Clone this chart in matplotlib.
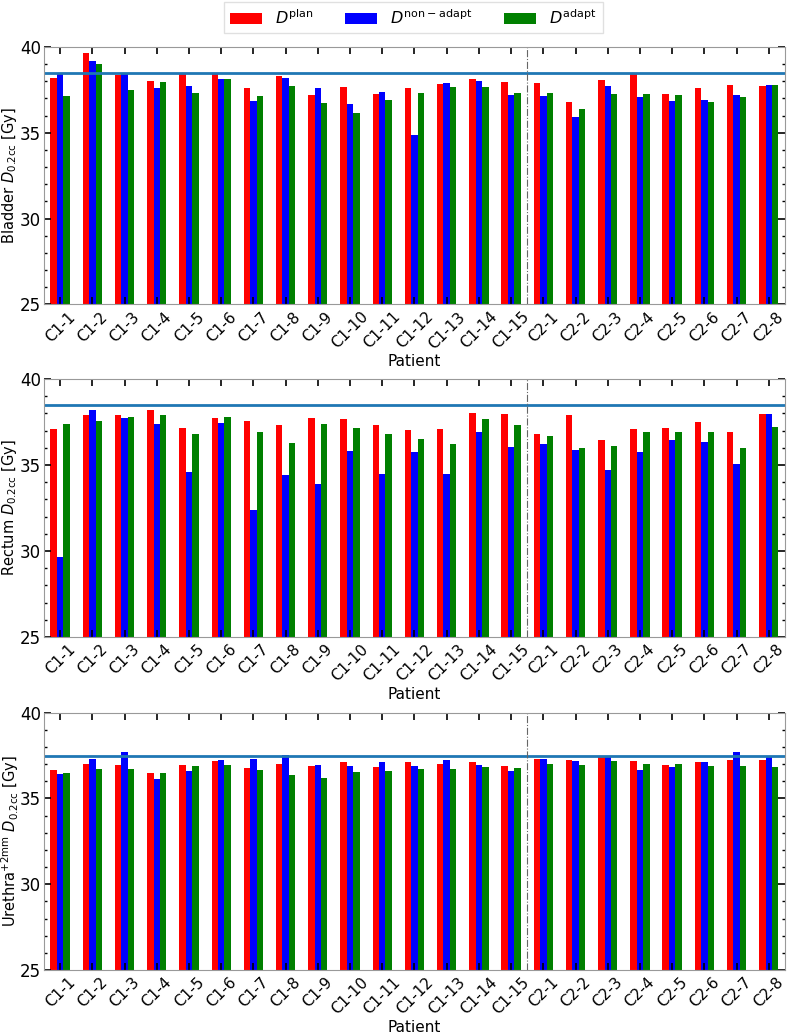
"""
Bladder / rectum / urethra D0.2cc per patient: plan vs non-adapted vs adapted.
"""

import matplotlib

matplotlib.use("Agg")
import matplotlib.pyplot as plt
import numpy as np
from matplotlib.ticker import MultipleLocator


PATIENTS = [f"C1-{i}" for i in range(1, 16)] + [f"C2-{i}" for i in range(1, 9)]

SERIES_LABELS = [r"$D^{\rm plan}$", r"$D^{\rm non-adapt}$", r"$D^{\rm adapt}$"]
SERIES_COLORS = ["red", "blue", "green"]

# Bladder D0.2cc [Gy]
bladder_plan = [38.20, 39.65, 38.35, 38.00, 38.45, 38.45, 37.63, 38.29, 37.19, 37.65,
                37.28, 37.63, 37.87, 38.14, 37.94, 37.88, 36.78, 38.06, 38.45, 37.28,
                37.59, 37.79, 37.75]
bladder_nonadapt = [38.49, 39.18, 38.50, 37.63, 37.73, 38.12, 36.88, 38.20, 37.63, 36.66,
                    37.36, 34.88, 37.92, 38.04, 37.22, 37.17, 35.92, 37.75, 37.11, 36.84,
                    36.91, 37.22, 37.81]
bladder_adapt = [37.17, 39.00, 37.50, 37.98, 37.30, 38.12, 37.17, 37.75, 36.72, 36.16,
                 36.90, 37.30, 37.65, 37.69, 37.30, 37.30, 36.41, 37.28, 37.28, 37.22,
                 36.82, 37.09, 37.77]

# Rectum D0.2cc [Gy]
rectum_plan = [37.11, 37.91, 37.89, 38.20, 37.17, 37.71, 37.58, 37.31, 37.73, 37.66,
               37.31, 37.05, 37.09, 38.00, 37.98, 36.80, 37.89, 36.47, 37.11, 37.17,
               37.48, 36.94, 37.97]
rectum_nonadapt = [29.67, 38.22, 37.75, 37.36, 34.57, 37.44, 32.38, 34.40, 33.91, 35.79,
                   34.50, 35.78, 34.50, 36.92, 36.07, 36.20, 35.85, 34.69, 35.78, 36.45,
                   36.36, 35.04, 37.97]
rectum_adapt = [37.40, 37.56, 37.79, 37.91, 36.80, 37.79, 36.90, 36.30, 37.40, 37.13,
                36.80, 36.53, 36.22, 37.67, 37.33, 36.69, 36.00, 36.10, 36.92, 36.92,
                36.90, 35.99, 37.21]

# Urethra+2mm D0.2cc [Gy]
urethra_plan = [36.64, 36.99, 36.95, 36.46, 36.95, 37.18, 36.79, 36.99, 36.87, 37.14,
                36.85, 37.14, 36.99, 37.10, 36.89, 37.30, 37.26, 37.44, 37.18, 36.97,
                37.12, 37.22, 37.22]
urethra_nonadapt = [36.44, 37.30, 37.71, 36.11, 36.62, 37.24, 37.32, 37.51, 36.93, 36.87,
                    37.14, 36.89, 37.24, 36.95, 36.62, 37.32, 37.20, 37.45, 36.66, 36.83,
                    37.10, 37.71, 37.47]
urethra_adapt = [36.48, 36.74, 36.74, 36.50, 36.87, 36.95, 36.64, 36.37, 36.19, 36.54,
                 36.58, 36.74, 36.74, 36.83, 36.76, 36.99, 36.95, 37.18, 36.99, 37.00,
                 36.87, 36.89, 36.81]

PANELS = [
    (r"Bladder $D_{\rm 0.2cc}$ [Gy]", 38.5, [bladder_plan, bladder_nonadapt, bladder_adapt]),
    (r"Rectum $D_{\rm 0.2cc}$ [Gy]", 38.5, [rectum_plan, rectum_nonadapt, rectum_adapt]),
    (r"Urethra$^{+2\rm mm}$ $D_{\rm 0.2cc}$ [Gy]", 37.5, [urethra_plan, urethra_nonadapt, urethra_adapt]),
]

# axes boxes in figure fractions (left, bottom, width, height)
AXES_BOXES = [
    (0.0558, 0.7057, 0.939, 0.2488),
    (0.0558, 0.3839, 0.939, 0.2495),
    (0.0558, 0.0619, 0.939, 0.2488),
]
# x position of the y label (axes coords); urethra label has a superscript
LABEL_X = [-0.0335, -0.0335, -0.0305]

BAR_WIDTH = 0.2
N_C1 = 15


def plot_panel(ax, ylabel, limit, series, label_x):
    x = np.arange(len(PATIENTS))
    for k, (vals, color, label) in enumerate(zip(series, SERIES_COLORS, SERIES_LABELS)):
        ax.bar(x + (k - 1) * BAR_WIDTH, vals, width=BAR_WIDTH, color=color, label=label)

    ax.axhline(limit, color="#1f77b4", lw=2)
    ax.axvline(N_C1 - 0.5, color="0.4", lw=0.8, ls="-.")

    ax.set_xlim(-0.5, len(PATIENTS) - 0.5)
    ax.set_ylim(25, 40)
    ax.set_xticks(x)
    ax.set_xticklabels(PATIENTS, rotation=45, fontsize=11)
    ax.yaxis.set_major_locator(MultipleLocator(5))
    ax.yaxis.set_minor_locator(MultipleLocator(1))
    ax.tick_params(axis="y", labelsize=12, pad=2)
    ax.tick_params(which="both", direction="in", top=True, right=True)
    ax.tick_params(which="major", length=5, width=1.2)
    ax.tick_params(which="minor", length=2.5, width=1)

    for spine in ax.spines.values():
        spine.set_edgecolor("0.6")

    ax.set_xlabel("Patient", fontsize=11, labelpad=2)
    ax.set_ylabel(ylabel, fontsize=10.5)
    ax.yaxis.set_label_coords(label_x, 0.5)


def main() -> int:
    fig = plt.figure(figsize=(7.89, 10.34), dpi=100)

    for box, label_x, (ylabel, limit, series) in zip(AXES_BOXES, LABEL_X, PANELS):
        ax = fig.add_axes(box)
        plot_panel(ax, ylabel, limit, series, label_x)

    handles, labels = ax.get_legend_handles_labels()
    fig.legend(handles, labels, loc="upper center", bbox_to_anchor=(0.524, 1.006),
               ncol=3, fontsize=11.5, frameon=True, fancybox=False, edgecolor="0.85")

    fig.savefig("out.png", dpi=100)
    plt.close(fig)
    return 0


if __name__ == "__main__":
    raise SystemExit(main())
